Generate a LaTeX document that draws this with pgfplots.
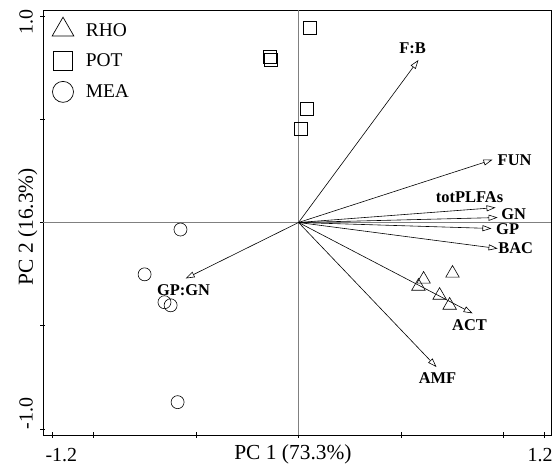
\documentclass[border=0pt]{standalone}
\usepackage{pgfplots}
\pgfplotsset{compat=1.18}
\usepackage{fontspec}
\setmainfont{Liberation Serif}
\usetikzlibrary{arrows.meta}

\begin{document}
\begin{tikzpicture}
\begin{axis}[
 at={(0,0)}, anchor=south west,
 width=508bp, height=425bp, scale only axis,
 xmin=-1.2466, xmax=1.2315, ymin=-1.029, ymax=1.029,
 axis line style={line width=0.8pt},
 xtick={-1.2,-1,-0.5,0,0.5,1,1.2},
 xticklabels={\makebox[0pt][l]{\kern-7bp -1.2},,,,,,\makebox[0pt][r]{1.2\kern-8bp}},
 ytick={-1,-0.5,0,0.5,1},
 yticklabels={\makebox[0pt][l]{-1.0},,,,\makebox[0pt][r]{1.0\kern-6bp}},
 tick align=center, major tick length=5bp, tick style={black, line width=0.6pt},
 xtick pos=bottom, ytick pos=left,
 ticklabel style={font=\fontsize{20}{22}\selectfont},
 xticklabel style={anchor=base, yshift=-24bp},
 yticklabel style={rotate=90, anchor=south},
 yticklabel shift=4bp,
 xlabel={PC 1 (73.3\%)}, ylabel={PC 2 (16.3\%)},
 label style={font=\fontsize{21.5}{24}\selectfont},
 x label style={at={(axis description cs:0.492,0)}, anchor=base, yshift=-24bp},
 y label style={at={(axis description cs:-0.004,0.49)}, anchor=south},
 legend image code/.code={\draw[#1] plot coordinates {(0bp,0bp)};},
 legend style={at={(axis description cs:0.0,1.0)}, anchor=north west, draw=none, fill=none,
   font=\fontsize{19.5}{21}\selectfont, row sep=11bp, xshift=6bp, yshift=-5bp,
   column sep=10bp},
 legend cell align=left,
 clip=false,
]
\addlegendimage{only marks, mark=triangle, mark size=12.5bp, black, mark options={line width=0.7pt, yshift=1.5bp}}
\addlegendentry{RHO}
\addlegendimage{only marks, mark=square, mark size=9.5bp, black, mark options={line width=0.7pt}}
\addlegendentry{POT}
\addlegendimage{only marks, mark=o, mark size=10.5bp, black, mark options={line width=0.7pt}}
\addlegendentry{MEA}

% centre lines
\addplot[gray, line width=0.4pt, forget plot] coordinates {(0,-1.029) (0,1.029)};
\addplot[gray, line width=0.4pt, forget plot] coordinates {(-1.2466,0) (1.2315,0)};

% POT
\addplot[only marks, mark=square, mark size=6.5bp, black, mark options={line width=0.6pt}, forget plot]
 coordinates {(0.054,0.942) (-0.141,0.802) (-0.137,0.787) (0.039,0.551) (0.010,0.454)};
% MEA
\addplot[only marks, mark=o, mark size=6.5bp, black, mark options={line width=0.6pt}, forget plot]
 coordinates {(-0.576,-0.034) (-0.751,-0.251) (-0.654,-0.386) (-0.624,-0.401) (-0.590,-0.870)};
% RHO
\addplot[only marks, mark=triangle, mark size=7.8bp, black, mark options={line width=0.6pt}, forget plot]
 coordinates {(0.610,-0.275) (0.751,-0.246) (0.585,-0.309) (0.688,-0.353) (0.737,-0.401)};

% vectors
\pgfplotsset{vec/.style={black, line width=0.6pt, -{Triangle[open, length=9bp, width=6bp]}, forget plot}}
\addplot[vec] coordinates {(0,0) (0.585,0.787)};
\addplot[vec] coordinates {(0,0) (0.946,0.304)};
\addplot[vec] coordinates {(0,0) (0.961,0.072)};
\addplot[vec] coordinates {(0,0) (0.971,0.024)};
\addplot[vec] coordinates {(0,0) (0.941,-0.029)};
\addplot[vec] coordinates {(0,0) (0.971,-0.126)};
\addplot[vec] coordinates {(0,0) (0.849,-0.440)};
\addplot[vec] coordinates {(0,0) (0.673,-0.700)};
\addplot[vec] coordinates {(0,0) (-0.551,-0.271)};

\tikzset{vl/.style={font=\fontsize{16.5}{18}\selectfont\bfseries, inner sep=0pt}}
\node[vl] at (axis cs:0.556,0.845) {F:B};
\node[vl] at (axis cs:1.054,0.304) {FUN};
\node[vl] at (axis cs:0.834,0.121) {totPLFAs};
\node[vl] at (axis cs:1.049,0.039) {GN};
\node[vl] at (axis cs:1.020,-0.034) {GP};
\node[vl] at (axis cs:1.059,-0.126) {BAC};
\node[vl] at (axis cs:0.834,-0.498) {ACT};
\node[vl] at (axis cs:0.678,-0.754) {AMF};
\node[vl] at (axis cs:-0.561,-0.329) {GP:GN};
\end{axis}
\pgfresetboundingbox
\path (-43bp,-32bp) rectangle (512bp,435bp);
\end{tikzpicture}
\end{document}
